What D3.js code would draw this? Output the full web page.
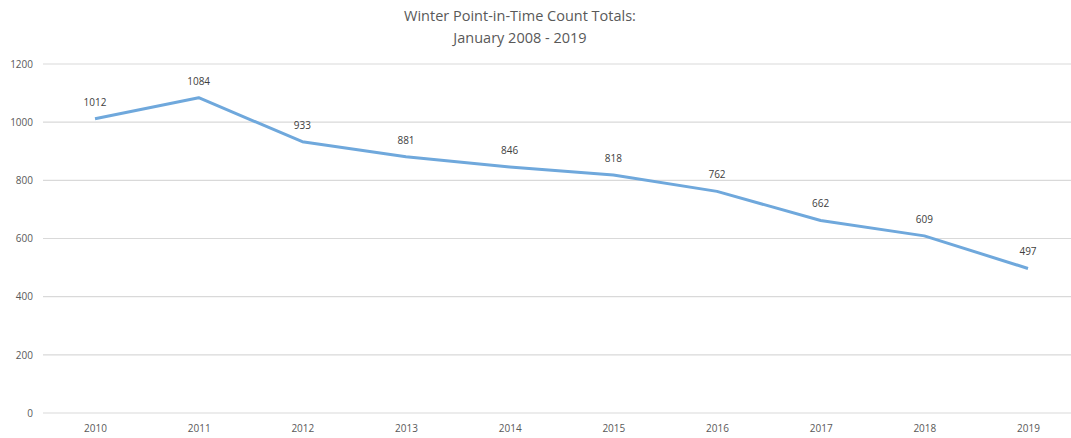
<!DOCTYPE html>
<html><head><meta charset="utf-8">
<script src="https://cdn.jsdelivr.net/npm/d3@7"></script>
<style>body{margin:0;background:#fff}svg{display:block}</style>
</head><body><svg id="c" width="1071" height="438"></svg>
<script>
const years = ["2010","2011","2012","2013","2014","2015","2016","2017","2018","2019"];
const totals = [1012,1084,933,881,846,818,762,662,609,497];
const yTicks = [0,200,400,600,800,1000,1200];
const titleLines = ["Winter Point-in-Time Count Totals:","January 2008 - 2019"];

const svg = d3.select("#c");
const font = "'Open Sans', 'Noto Sans', sans-serif";
const x = d3.scalePoint().domain(years).range([95, 1028]);
const y = d3.scaleLinear().domain([0,1200]).range([413, 64]);

svg.selectAll(".title").data(titleLines).enter().append("text")
  .attr("x", 520).attr("y", (d,i)=>21+i*22).attr("text-anchor","middle")
  .attr("font-family", font).attr("font-size", 14.5).attr("fill","#595959").text(d=>d);

const yAxis = d3.axisLeft(y).tickValues(yTicks).tickFormat(d3.format("d")).tickSize(0).tickPadding(10);
const ga = svg.append("g").attr("transform","translate(43,0)").call(yAxis);
ga.select(".domain").remove();
ga.selectAll("text").attr("font-family",font).attr("font-size",10).attr("fill","#595959");

svg.append("g").selectAll("line").data(yTicks).enter().append("line")
  .attr("x1",43).attr("x2",1080).attr("y1",d=>y(d)).attr("y2",d=>y(d))
  .attr("stroke","#d9d9d9").attr("stroke-width",1.2);

const xAxis = d3.axisBottom(x).tickSize(0).tickPadding(12);
const gx = svg.append("g").attr("transform","translate(0,413)").call(xAxis);
gx.select(".domain").remove();
gx.selectAll("text").attr("font-family",font).attr("font-size",10).attr("fill","#595959");

const line = d3.line().x((d,i)=>x(years[i])).y(d=>y(d));
svg.append("path").datum(totals).attr("d",line).attr("fill","none")
  .attr("stroke","#6fa8dc").attr("stroke-width",3).attr("stroke-linejoin","round");

svg.selectAll(".lbl").data(totals).enter().append("text")
  .attr("x",(d,i)=>x(years[i])).attr("y",d=>y(d)-13).attr("text-anchor","middle")
  .attr("font-family",font).attr("font-size",10).attr("fill","#404040").text(d=>d);
</script></body></html>
